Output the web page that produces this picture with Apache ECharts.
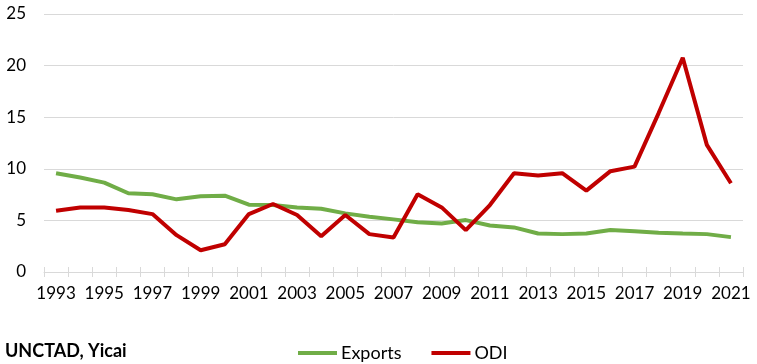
<!DOCTYPE html>
<html><head><meta charset="utf-8">
<script src="https://cdn.jsdelivr.net/npm/echarts@6/dist/echarts.min.js"></script>
<style>html,body{margin:0;padding:0;background:#fff}#c{width:757px;height:364px}</style>
</head><body><div id="c"></div>
<script>
const years = ['1993','1994','1995','1996','1997','1998','1999','2000','2001','2002','2003','2004','2005','2006','2007','2008','2009','2010','2011','2012','2013','2014','2015','2016','2017','2018','2019','2020','2021'];
const exportsVals = [9.57,9.15,8.66,7.63,7.53,7.04,7.33,7.39,6.52,6.49,6.26,6.13,5.68,5.35,5.1,4.83,4.7,5.03,4.51,4.32,3.73,3.67,3.73,4.06,3.96,3.8,3.73,3.67,3.38];
const odiVals = [5.93,6.26,6.26,6.0,5.61,3.57,2.11,2.69,5.61,6.59,5.52,3.47,5.52,3.67,3.34,7.53,6.26,4.06,6.49,9.57,9.34,9.57,7.88,9.77,10.21,15.4,20.76,12.32,8.6];
const yTicks = [0,5,10,15,20,25];
const sourceText = 'UNCTAD, Yicai';

const font = 'Lato, "Open Sans", sans-serif';
const chart = echarts.init(document.getElementById('c'));
chart.setOption({
  animation: false,
  grid: {left: 44, right: 14, top: 14, bottom: 92},
  xAxis: [{
    type: 'category', data: years, boundaryGap: true,
    axisLine: {lineStyle: {color: '#d9d9d9', width: 1}},
    axisTick: {show: true, length: 5, lineStyle: {color: '#d9d9d9'}, interval: 0},
    axisLabel: {interval: 1, color: '#000', fontFamily: font, fontSize: 17, margin: 13}
  }, {
    type: 'category', data: years, boundaryGap: true, position: 'bottom',
    axisLine: {show: false},
    axisTick: {show: true, inside: true, length: 5, lineStyle: {color: '#d9d9d9'}, interval: 0},
    axisLabel: {show: false}
  }],
  yAxis: {
    type: 'value', min: yTicks[0], max: yTicks[yTicks.length-1], interval: 5,
    axisLine: {show: false}, axisTick: {show: false},
    splitLine: {lineStyle: {color: '#d9d9d9', width: 1}},
    axisLabel: {color: '#000', fontFamily: font, fontSize: 17, margin: 18}
  },
  legend: {
    top: 339, left: 293, itemGap: 30, itemWidth: 39, itemHeight: 4,
    icon: 'rect', itemStyle: {borderWidth: 0},
    textStyle: {fontFamily: font, fontSize: 18, lineHeight: 18, color: '#000', padding: [0,0,0,-1]},
    data: ['Exports', 'ODI']
  },
  graphic: [{
    type: 'text', left: 5, top: 342,
    style: {text: sourceText, font: 'bold 18px ' + font, fill: '#000'}
  }],
  series: [
    {name: 'Exports', type: 'line', data: exportsVals, symbol: 'none', lineStyle: {color: '#70ad47', width: 4}, itemStyle: {color: '#70ad47'}},
    {name: 'ODI', type: 'line', data: odiVals, symbol: 'none', lineStyle: {color: '#c00000', width: 4}, itemStyle: {color: '#c00000'}}
  ]
});
</script></body></html>
